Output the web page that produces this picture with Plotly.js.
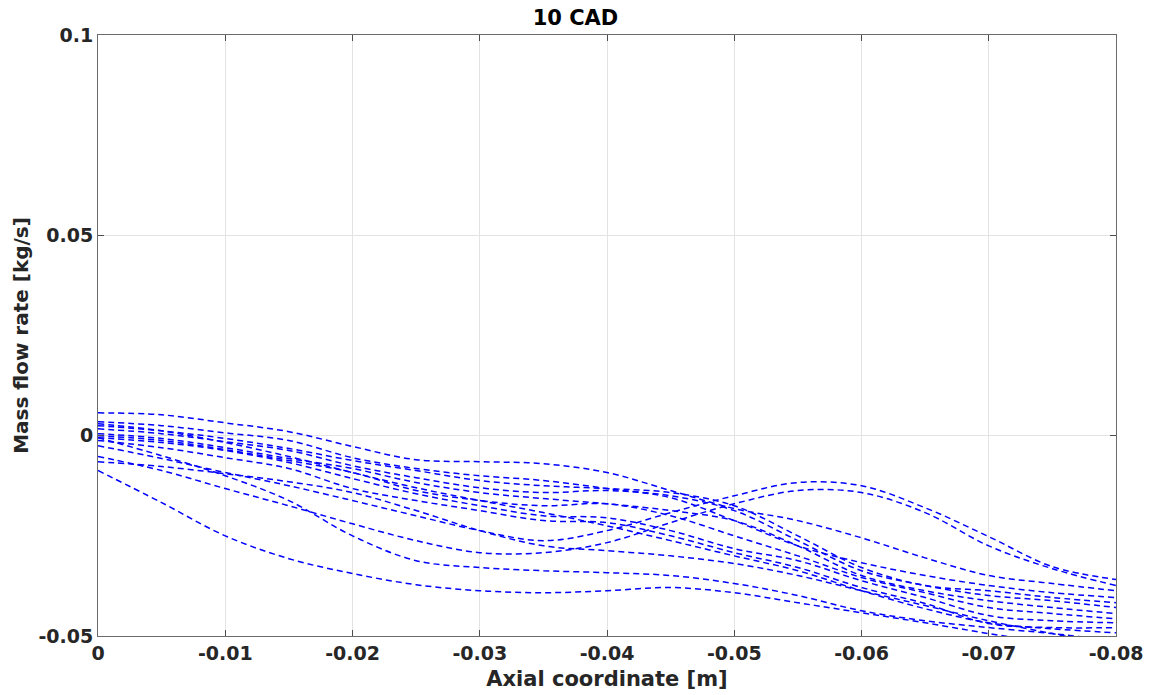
<!DOCTYPE html>
<html>
<head>
<meta charset="utf-8">
<script src="https://cdn.plot.ly/plotly-3.0.1.min.js"></script>
<style>html,body{margin:0;padding:0;background:#fff;}#chart{width:1151px;height:695px;}</style>
</head>
<body>
<div id="chart"></div>
<script>
// Axial coordinate samples [m]
const xPos = [0, -0.005, -0.01, -0.015, -0.02, -0.025, -0.03, -0.035, -0.04, -0.045, -0.05, -0.055, -0.06, -0.065, -0.07, -0.075, -0.08];

// Mass flow rate series [kg/s]
const s1  = [0.0057, 0.0052, 0.0032, 0.0010, -0.0027, -0.0060, -0.0065, -0.0070, -0.0092, -0.0137, -0.0182, -0.0212, -0.0255, -0.0305, -0.0349, -0.0369, -0.0387];
const s2  = [-0.0025, -0.0057, -0.0092, -0.0125, -0.0162, -0.0200, -0.0237, -0.0262, -0.0237, -0.0192, -0.0150, -0.0117, -0.0125, -0.0180, -0.0252, -0.0327, -0.0359];
const s3  = [-0.0052, -0.0087, -0.0132, -0.0175, -0.0220, -0.0262, -0.0292, -0.0292, -0.0267, -0.0217, -0.0170, -0.0137, -0.0142, -0.0192, -0.0275, -0.0332, -0.0374];
const s4  = [-0.0087, -0.0167, -0.0250, -0.0307, -0.0344, -0.0372, -0.0387, -0.0392, -0.0387, -0.0379, -0.0392, -0.0417, -0.0442, -0.0467, -0.0494, -0.0517, -0.0537];
const s5  = [-0.0005, -0.0050, -0.0100, -0.0162, -0.0250, -0.0312, -0.0329, -0.0337, -0.0342, -0.0349, -0.0369, -0.0399, -0.0437, -0.0462, -0.0479, -0.0494, -0.0512];
const s6  = [-0.0065, -0.0077, -0.0095, -0.0115, -0.0142, -0.0187, -0.0237, -0.0275, -0.0287, -0.0300, -0.0319, -0.0349, -0.0387, -0.0424, -0.0462, -0.0494, -0.0524];
const s7  = [0.0035, 0.0025, 0.0007, -0.0012, -0.0055, -0.0082, -0.0100, -0.0112, -0.0132, -0.0155, -0.0212, -0.0275, -0.0317, -0.0349, -0.0374, -0.0392, -0.0404];
const s8  = [0.0025, 0.0012, -0.0007, -0.0032, -0.0062, -0.0087, -0.0112, -0.0125, -0.0132, -0.0142, -0.0175, -0.0250, -0.0329, -0.0374, -0.0387, -0.0404, -0.0417];
const s9  = [0.0017, 0.0005, -0.0015, -0.0037, -0.0075, -0.0105, -0.0130, -0.0142, -0.0137, -0.0150, -0.0187, -0.0262, -0.0337, -0.0374, -0.0399, -0.0412, -0.0429];
const s10 = [0.0005, -0.0007, -0.0030, -0.0057, -0.0082, -0.0117, -0.0142, -0.0157, -0.0170, -0.0187, -0.0212, -0.0275, -0.0349, -0.0387, -0.0412, -0.0429, -0.0444];
const s11 = [0.0000, -0.0012, -0.0035, -0.0062, -0.0092, -0.0137, -0.0162, -0.0175, -0.0170, -0.0200, -0.0250, -0.0300, -0.0354, -0.0392, -0.0429, -0.0444, -0.0457];
const s12 = [-0.0005, -0.0017, -0.0037, -0.0067, -0.0107, -0.0145, -0.0175, -0.0200, -0.0205, -0.0237, -0.0282, -0.0312, -0.0362, -0.0404, -0.0449, -0.0462, -0.0467];
const s13 = [-0.0012, -0.0030, -0.0055, -0.0082, -0.0132, -0.0162, -0.0187, -0.0212, -0.0217, -0.0250, -0.0292, -0.0329, -0.0379, -0.0419, -0.0469, -0.0479, -0.0479];
const s14 = [0.0030, 0.0012, -0.0017, -0.0052, -0.0092, -0.0130, -0.0162, -0.0192, -0.0225, -0.0262, -0.0300, -0.0337, -0.0387, -0.0432, -0.0467, -0.0482, -0.0492];

const allSeries = [s1, s2, s3, s4, s5, s6, s7, s8, s9, s10, s11, s12, s13, s14];

const xTickVals = [0, -0.01, -0.02, -0.03, -0.04, -0.05, -0.06, -0.07, -0.08];
const xTickText = ['0', '-0.01', '-0.02', '-0.03', '-0.04', '-0.05', '-0.06', '-0.07', '-0.08'];
const yTickVals = [-0.05, 0, 0.05, 0.1];
const yTickText = ['-0.05', '0', '0.05', '0.1'];

const traces = allSeries.map(function (s) {
  return {
    x: xPos, y: s, type: 'scatter', mode: 'lines',
    line: {color: '#0000ff', width: 1.5, dash: '6px,4px', shape: 'spline', smoothing: 1},
    hoverinfo: 'skip', showlegend: false
  };
});

const fontFam = 'DejaVu Sans, Liberation Sans, sans-serif';
const axisCommon = {
  showgrid: true, gridcolor: '#e3e3e3', gridwidth: 1,
  zeroline: false, showline: true, linecolor: '#6b6b6b', linewidth: 1,
  mirror: 'ticks', ticks: 'inside', ticklen: 6, tickcolor: '#4d4d4d',
  tickfont: {family: fontFam, size: 19, color: '#262626', weight: 'bold'}
};

const layout = {
  width: 1151, height: 695,
  margin: {l: 98, r: 35, t: 35, b: 59, pad: 0},
  paper_bgcolor: '#ffffff', plot_bgcolor: '#ffffff',
  title: {text: '10 CAD', x: 0.5, xanchor: 'center', y: 0.975, yanchor: 'middle',
          font: {family: fontFam, size: 21, color: '#000000', weight: 'bold'}},
  xaxis: Object.assign({}, axisCommon, {
    range: [0, -0.08], tickvals: xTickVals, ticktext: xTickText,
    title: {text: 'Axial coordinate [m]', standoff: 8,
            font: {family: fontFam, size: 21, color: '#262626', weight: 'bold'}}
  }),
  yaxis: Object.assign({}, axisCommon, {
    range: [-0.05, 0.1], tickvals: yTickVals, ticktext: yTickText,
    title: {text: 'Mass flow rate [kg/s]', standoff: 4,
            font: {family: fontFam, size: 20, color: '#262626', weight: 'bold'}}
  })
};

Plotly.newPlot('chart', traces, layout, {staticPlot: true, displayModeBar: false});
</script>
</body>
</html>
